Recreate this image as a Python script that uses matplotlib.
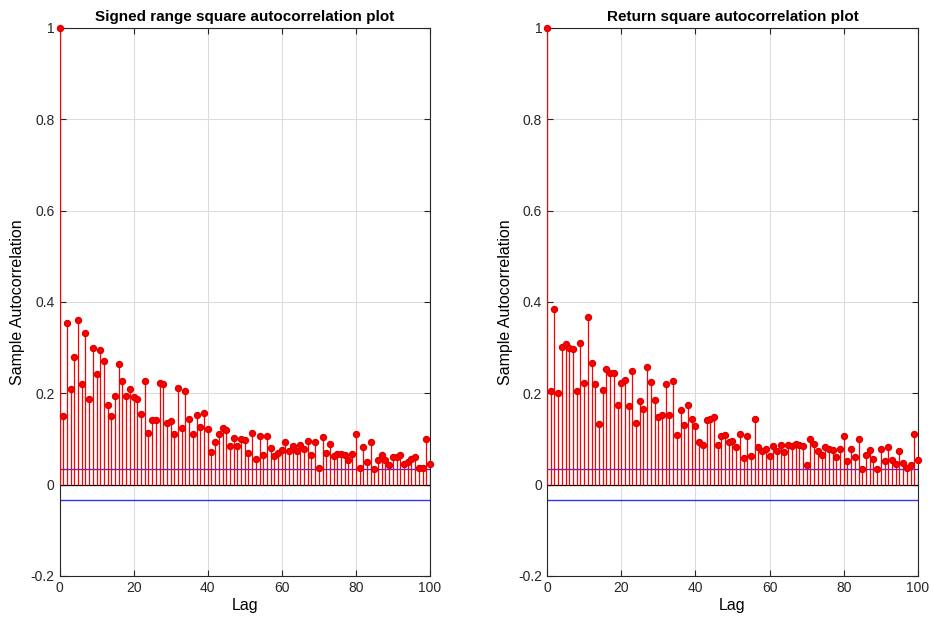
import numpy as np
import matplotlib
matplotlib.use("Agg")
import matplotlib.pyplot as plt

plt.rcParams['font.family'] = ['Liberation Sans', 'DejaVu Sans']

lags = list(range(0, 101))

signed_range_acf = [
    1.0, 0.151, 0.353, 0.209, 0.280, 0.360, 0.220, 0.333, 0.187, 0.300,
    0.242, 0.295, 0.271, 0.175, 0.151, 0.195, 0.264, 0.227, 0.195, 0.209,
    0.191, 0.188, 0.155, 0.227, 0.113, 0.142, 0.142, 0.222, 0.220, 0.135,
    0.140, 0.111, 0.211, 0.124, 0.204, 0.144, 0.111, 0.152, 0.126, 0.157,
    0.122, 0.071, 0.093, 0.111, 0.125, 0.120, 0.084, 0.102, 0.084, 0.100,
    0.097, 0.070, 0.113, 0.057, 0.106, 0.066, 0.106, 0.080, 0.062, 0.069,
    0.076, 0.093, 0.074, 0.084, 0.073, 0.086, 0.077, 0.095, 0.066, 0.093,
    0.037, 0.104, 0.070, 0.088, 0.062, 0.068, 0.068, 0.064, 0.053, 0.068,
    0.111, 0.037, 0.082, 0.050, 0.093, 0.035, 0.055, 0.066, 0.053, 0.044,
    0.060, 0.060, 0.066, 0.046, 0.050, 0.056, 0.060, 0.037, 0.037, 0.099,
    0.046,
]

return_square_acf = [
    1.0, 0.206, 0.384, 0.200, 0.302, 0.308, 0.300, 0.298, 0.206, 0.311,
    0.222, 0.368, 0.266, 0.220, 0.133, 0.208, 0.253, 0.244, 0.244, 0.175,
    0.222, 0.230, 0.173, 0.249, 0.135, 0.184, 0.166, 0.258, 0.224, 0.186,
    0.148, 0.153, 0.220, 0.153, 0.228, 0.108, 0.164, 0.131, 0.175, 0.144,
    0.128, 0.093, 0.086, 0.141, 0.144, 0.148, 0.086, 0.106, 0.108, 0.093,
    0.095, 0.082, 0.110, 0.059, 0.106, 0.063, 0.144, 0.082, 0.073, 0.079,
    0.063, 0.084, 0.073, 0.086, 0.071, 0.086, 0.084, 0.088, 0.086, 0.084,
    0.042, 0.100, 0.090, 0.073, 0.066, 0.082, 0.077, 0.075, 0.061, 0.079,
    0.106, 0.051, 0.079, 0.061, 0.101, 0.035, 0.066, 0.075, 0.057, 0.035,
    0.079, 0.051, 0.082, 0.055, 0.046, 0.073, 0.048, 0.037, 0.042, 0.111,
    0.055,
]

conf_bound = 0.0345
titles = ['Signed range square autocorrelation plot', 'Return square autocorrelation plot']
series = [signed_range_acf, return_square_acf]
yticks = [-0.2, 0, 0.2, 0.4, 0.6, 0.8, 1.0]
ytick_labels = ['-0.2', '0', '0.2', '0.4', '0.6', '0.8', '1']
xticks = [0, 20, 40, 60, 80, 100]

fig = plt.figure(figsize=(9.33, 6.22), dpi=100)
positions = [[0.0638, 0.074, 0.397, 0.881], [0.5863, 0.074, 0.3976, 0.881]]

for pos, title, vals in zip(positions, titles, series):
    ax = fig.add_axes(pos)
    ax.set_xlim(0, 100)
    ax.set_ylim(-0.2, 1.0)
    ax.grid(True, color='#dcdcdc', linewidth=0.8)
    ax.set_axisbelow(True)
    ml, sl, bl = ax.stem(lags, vals, linefmt='-', markerfmt='o', basefmt=' ')
    plt.setp(sl, color='#ff0000', linewidth=0.9, zorder=2.6)
    plt.setp(ml, markerfacecolor='#ff0000', markeredgecolor='#e00000', markersize=4.3,
             clip_on=False, zorder=3)
    ax.axhline(0, color='black', linewidth=0.9, zorder=1.5)
    ax.plot([0, 100], [conf_bound, conf_bound], color='#3333ff', linewidth=1.0)
    ax.plot([0, 100], [-conf_bound, -conf_bound], color='#3333ff', linewidth=1.0)
    ax.set_xticks(xticks)
    ax.set_yticks(yticks)
    ax.set_yticklabels(ytick_labels)
    ax.tick_params(direction='in', top=True, right=True, labelsize=10, colors='#262626', length=4)
    for sp in ax.spines.values():
        sp.set_color('#262626')
        sp.set_linewidth(0.8)
    ax.set_title(title, fontsize=11, fontweight='bold', pad=5)
    ax.set_xlabel('Lag', fontsize=11.5, labelpad=2)
    ax.set_ylabel('Sample Autocorrelation', fontsize=11.5, labelpad=4)

fig.savefig('out.png', dpi=100)
